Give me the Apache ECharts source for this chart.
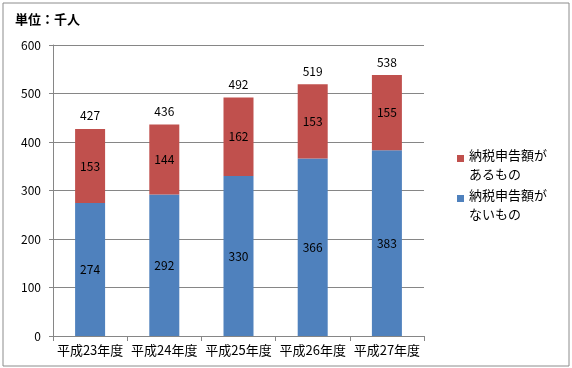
<!DOCTYPE html>
<html><head><meta charset="utf-8">
<script src="https://cdn.jsdelivr.net/npm/echarts@6/dist/echarts.min.js"></script>
<style>html,body{margin:0;padding:0;background:#fff}#c{width:572px;height:368px}</style>
</head><body><div id="c"></div>
<script>
var categories = ['平成23年度','平成24年度','平成25年度','平成26年度','平成27年度'];
var withoutTax = [274, 292, 330, 366, 383];
var withTax = [153, 144, 162, 153, 155];
var yTicks = [0, 100, 200, 300, 400, 500, 600];
var totals = categories.map(function(_, i){ return withoutTax[i] + withTax[i]; });
var FONT = '"Noto Sans CJK JP", sans-serif';
var chart = echarts.init(document.getElementById('c'));
chart.setOption({
  animation: false,
  textStyle: { fontFamily: FONT },
  graphic: [
    { type: 'rect', shape: { x: 3, y: 3, width: 566, height: 363 }, style: { fill: 'none', stroke: '#8c8c8c', lineWidth: 1 } },
    { type: 'text', left: 15, top: 13, style: { text: '単位：千人', font: 'bold 13px ' + FONT, fill: '#000' } }
  ],
  grid: { left: 53, right: 148, top: 45, bottom: 32 },
  legend: {
    orient: 'vertical', left: 452, top: 128, itemGap: -11,
    itemWidth: 7, itemHeight: 7, icon: 'rect',
    data: ['納税申告額が\nあるもの', '納税申告額が\nないもの'],
    formatter: function (n) { return '{s| }\n' + n; },
    textStyle: { fontSize: 13, color: '#000', lineHeight: 19, fontFamily: FONT,
      rich: { s: { fontSize: 1, lineHeight: 13 } } }
  },
  xAxis: {
    type: 'category', data: categories,
    axisLine: { lineStyle: { color: '#868686' } },
    axisTick: { show: true, length: 5, lineStyle: { color: '#868686' } },
    axisLabel: { color: '#000', fontSize: 13, margin: 8, interval: 0 }
  },
  yAxis: {
    type: 'value', min: yTicks[0], max: yTicks[yTicks.length-1], interval: 100,
    axisLine: { show: true, lineStyle: { color: '#868686' } },
    axisTick: { show: true, length: 4, lineStyle: { color: '#868686' } },
    axisLabel: { color: '#000', fontSize: 12, margin: 12 },
    splitLine: { lineStyle: { color: '#868686' } }
  },
  series: [
    { name: '納税申告額が\nないもの', type: 'bar', stack: 's', data: withoutTax, barWidth: 30,
      itemStyle: { color: '#4F81BD' },
      label: { show: true, position: 'inside', color: '#000', fontSize: 12 } },
    { name: '納税申告額が\nあるもの', type: 'bar', stack: 's', data: withTax, barWidth: 30,
      itemStyle: { color: '#C0504D' },
      label: { show: true, position: 'inside', color: '#000', fontSize: 12 } },
    { name: '合計', type: 'bar', data: totals, barWidth: 30, barGap: '-100%', z: 0,
      itemStyle: { color: 'rgba(0,0,0,0)' }, silent: true,
      label: { show: true, position: 'top', distance: 7, color: '#000', fontSize: 12 } }
  ]
});
</script></body></html>
